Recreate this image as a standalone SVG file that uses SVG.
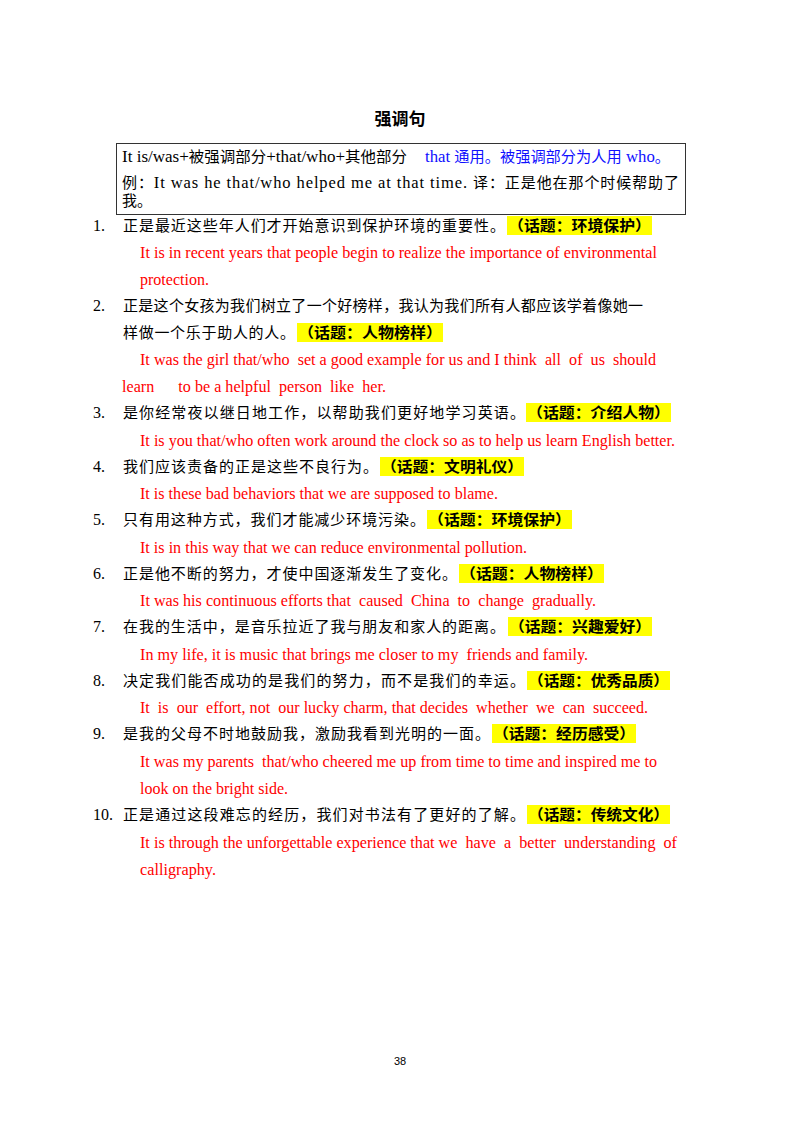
<svg xmlns="http://www.w3.org/2000/svg" width="800" height="1132" viewBox="0 0 800 1132">
<style>
.t{font-family:"Liberation Serif","Noto Sans CJK SC",serif;font-size:15px;fill:#000}
.e{font-size:16.5px}
.r{font-family:"Liberation Serif","Noto Sans CJK SC",serif;font-size:16.5px;fill:#ff0000}
.b{fill:#1010ff}
.h{font-family:"Noto Sans CJK SC",sans-serif;font-size:14.5px;font-weight:700;fill:#000}
.hl{fill:#ffff00}
.n{font-family:"Liberation Serif",serif;font-size:16px;fill:#000}
</style>
<rect width="800" height="1132" fill="#fff"/>
<g id="title"><text x="400" y="125" text-anchor="middle" font-family="Noto Sans CJK SC,sans-serif" font-size="17" font-weight="700">强调句</text></g>
<g id="rule-box">
<rect x="116.5" y="143.5" width="569" height="71" fill="none" stroke="#333" stroke-width="1"/>
<text class="t" x="122" y="162" textLength="285" lengthAdjust="spacingAndGlyphs"><tspan class="e">It is/was+</tspan>被强调部分<tspan class="e">+that/who+</tspan>其他部分</text>
<text class="t b" x="425" y="162" textLength="245" lengthAdjust="spacingAndGlyphs"><tspan class="e">that </tspan>通用。被强调部分为人用<tspan class="e"> who</tspan>。</text>
<text class="t" x="122" y="188" textLength="557" lengthAdjust="spacing">例：<tspan class="e">It was he that/who helped me at that time. </tspan>译：正是他在那个时候帮助了</text>
<text class="t" x="122" y="206">我。</text>
</g>
<g id="highlights">
<rect class="hl" x="507" y="216" width="145" height="19"/>
<rect class="hl" x="297" y="323" width="146" height="19"/>
<rect class="hl" x="526" y="403" width="145" height="19"/>
<rect class="hl" x="380" y="457" width="144" height="19"/>
<rect class="hl" x="427" y="510" width="145" height="19"/>
<rect class="hl" x="459" y="564" width="145" height="19"/>
<rect class="hl" x="508" y="617" width="144" height="19"/>
<rect class="hl" x="527" y="671" width="143" height="19"/>
<rect class="hl" x="492" y="724" width="144" height="19"/>
<rect class="hl" x="527" y="805" width="143" height="19"/>
</g>
<g id="item1">
<text class="n" x="93" y="231">1.</text>
<text class="t" x="123" y="231" textLength="382" lengthAdjust="spacing">正是最近这些年人们才开始意识到保护环境的重要性。</text>
<text class="h" x="508" y="231" textLength="143" lengthAdjust="spacingAndGlyphs">（话题：环境保护）</text>
<text class="r" x="140" y="258" textLength="517" lengthAdjust="spacingAndGlyphs">It is in recent years that people begin to realize the importance of environmental</text>
<text class="r" x="140" y="285" textLength="69" lengthAdjust="spacingAndGlyphs">protection.</text>
</g>
<g id="item2">
<text class="n" x="93" y="311">2.</text>
<text class="t" x="123" y="311" textLength="520" lengthAdjust="spacing">正是这个女孩为我们树立了一个好榜样，我认为我们所有人都应该学着像她一</text>
<text class="t" x="123" y="338" textLength="172" lengthAdjust="spacing">样做一个乐于助人的人。</text>
<text class="h" x="298" y="338" textLength="144" lengthAdjust="spacingAndGlyphs">（话题：人物榜样）</text>
<text class="r" x="140" y="365" textLength="516" lengthAdjust="spacingAndGlyphs" xml:space="preserve">It was the girl that/who  set a good example for us and I think  all  of  us  should</text>
<text class="r" x="122" y="392" textLength="264" lengthAdjust="spacingAndGlyphs" xml:space="preserve">learn      to be a helpful  person  like  her.</text>
</g>
<g id="item3">
<text class="n" x="93" y="418">3.</text>
<text class="t" x="123" y="418" textLength="402" lengthAdjust="spacing">是你经常夜以继日地工作，以帮助我们更好地学习英语。</text>
<text class="h" x="527" y="418" textLength="143" lengthAdjust="spacingAndGlyphs">（话题：介绍人物）</text>
<text class="r" x="140" y="446" textLength="535" lengthAdjust="spacingAndGlyphs">It is you that/who often work around the clock so as to help us learn English better.</text>
</g>
<g id="item4">
<text class="n" x="93" y="472">4.</text>
<text class="t" x="123" y="472" textLength="255" lengthAdjust="spacing">我们应该责备的正是这些不良行为。</text>
<text class="h" x="381" y="472" textLength="142" lengthAdjust="spacingAndGlyphs">（话题：文明礼仪）</text>
<text class="r" x="140" y="499" textLength="358" lengthAdjust="spacingAndGlyphs">It is these bad behaviors that we are supposed to blame.</text>
</g>
<g id="item5">
<text class="n" x="93" y="525">5.</text>
<text class="t" x="123" y="525" textLength="302" lengthAdjust="spacing">只有用这种方式，我们才能减少环境污染。</text>
<text class="h" x="428" y="525" textLength="143" lengthAdjust="spacingAndGlyphs">（话题：环境保护）</text>
<text class="r" x="140" y="553" textLength="387" lengthAdjust="spacingAndGlyphs">It is in this way that we can reduce environmental pollution.</text>
</g>
<g id="item6">
<text class="n" x="93" y="579">6.</text>
<text class="t" x="123" y="579" textLength="334" lengthAdjust="spacing">正是他不断的努力，才使中国逐渐发生了变化。</text>
<text class="h" x="460" y="579" textLength="143" lengthAdjust="spacingAndGlyphs">（话题：人物榜样）</text>
<text class="r" x="140" y="606" textLength="456" lengthAdjust="spacingAndGlyphs" xml:space="preserve">It was his continuous efforts that  caused  China  to  change  gradually.</text>
</g>
<g id="item7">
<text class="n" x="93" y="632">7.</text>
<text class="t" x="123" y="632" textLength="382" lengthAdjust="spacing">在我的生活中，是音乐拉近了我与朋友和家人的距离。</text>
<text class="h" x="509" y="632" textLength="142" lengthAdjust="spacingAndGlyphs">（话题：兴趣爱好）</text>
<text class="r" x="140" y="660" textLength="448" lengthAdjust="spacingAndGlyphs" xml:space="preserve">In my life, it is music that brings me closer to my  friends and family.</text>
</g>
<g id="item8">
<text class="n" x="93" y="686">8.</text>
<text class="t" x="123" y="686" textLength="402" lengthAdjust="spacing">决定我们能否成功的是我们的努力，而不是我们的幸运。</text>
<text class="h" x="528" y="686" textLength="141" lengthAdjust="spacingAndGlyphs">（话题：优秀品质）</text>
<text class="r" x="140" y="713" textLength="508" lengthAdjust="spacingAndGlyphs" xml:space="preserve">It  is  our  effort, not  our lucky charm, that decides  whether  we  can  succeed.</text>
</g>
<g id="item9">
<text class="n" x="93" y="739">9.</text>
<text class="t" x="123" y="739" textLength="367" lengthAdjust="spacing">是我的父母不时地鼓励我，激励我看到光明的一面。</text>
<text class="h" x="493" y="739" textLength="142" lengthAdjust="spacingAndGlyphs">（话题：经历感受）</text>
<text class="r" x="140" y="767" textLength="517" lengthAdjust="spacingAndGlyphs" xml:space="preserve">It was my parents  that/who cheered me up from time to time and inspired me to</text>
<text class="r" x="140" y="794" textLength="148" lengthAdjust="spacingAndGlyphs">look on the bright side.</text>
</g>
<g id="item10">
<text class="n" x="93" y="820">10.</text>
<text class="t" x="123" y="820" textLength="402" lengthAdjust="spacing">正是通过这段难忘的经历，我们对书法有了更好的了解。</text>
<text class="h" x="528" y="820" textLength="141" lengthAdjust="spacingAndGlyphs">（话题：传统文化）</text>
<text class="r" x="140" y="848" textLength="537" lengthAdjust="spacingAndGlyphs" xml:space="preserve">It is through the unforgettable experience that we  have  a  better  understanding  of</text>
<text class="r" x="140" y="875" textLength="76" lengthAdjust="spacingAndGlyphs">calligraphy.</text>
</g>
<g id="page-number"><text x="400" y="1065" text-anchor="middle" font-family="Liberation Sans,sans-serif" font-size="11" fill="#000">38</text></g>
<g id="connectors"/>
</svg>
